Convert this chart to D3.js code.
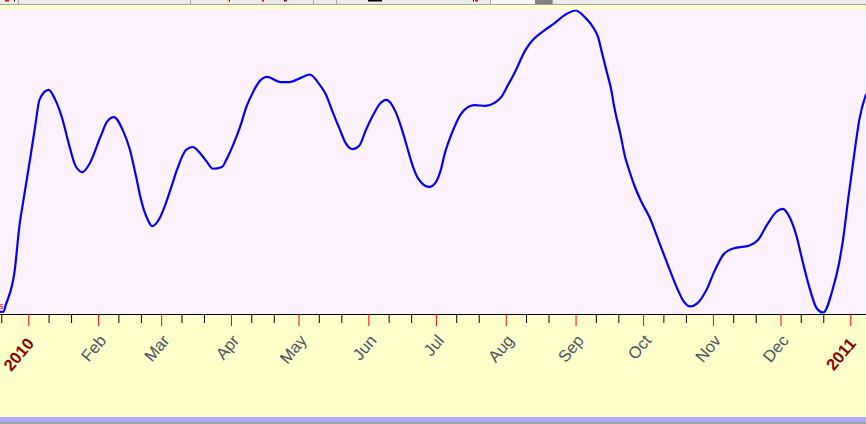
<!DOCTYPE html>
<html><head><meta charset="utf-8">
<script src="https://cdn.jsdelivr.net/npm/d3@7"></script>
<style>html,body{margin:0;padding:0;overflow:hidden;background:#ffffcc}svg{display:block}</style>
</head><body>
<svg id="c" width="866" height="424"></svg>
<script>
// ---- data (arbitrary index units 0..100) ----
const dates = [
"2009-12-19","2009-12-21","2009-12-22","2009-12-26","2009-12-28","2009-12-30",
"2010-01-02","2010-01-04","2010-01-06","2010-01-10","2010-01-13","2010-01-16","2010-01-19","2010-01-22","2010-01-25","2010-01-28",
"2010-02-02","2010-02-05","2010-02-08","2010-02-12","2010-02-15","2010-02-18","2010-02-20","2010-02-23","2010-02-25","2010-02-28",
"2010-03-03","2010-03-06","2010-03-08","2010-03-12","2010-03-15","2010-03-18","2010-03-21","2010-03-24","2010-03-28","2010-03-30",
"2010-04-02","2010-04-05","2010-04-08","2010-04-11","2010-04-13","2010-04-17","2010-04-23","2010-04-27",
"2010-05-02","2010-05-06","2010-05-10","2010-05-13","2010-05-16","2010-05-19","2010-05-22","2010-05-25","2010-05-28","2010-05-31",
"2010-06-03","2010-06-06","2010-06-09","2010-06-13","2010-06-16","2010-06-18","2010-06-21","2010-06-23","2010-06-28",
"2010-07-01","2010-07-03","2010-07-05","2010-07-08","2010-07-12","2010-07-15","2010-07-18","2010-07-23","2010-07-27","2010-07-30",
"2010-08-02","2010-08-05","2010-08-10","2010-08-13","2010-08-18","2010-08-23","2010-08-27",
"2010-09-01","2010-09-05","2010-09-09","2010-09-11","2010-09-13","2010-09-15","2010-09-17","2010-09-18","2010-09-21","2010-09-23","2010-09-24","2010-09-27","2010-09-30",
"2010-10-04","2010-10-08","2010-10-12","2010-10-16","2010-10-19","2010-10-22","2010-10-25","2010-10-29",
"2010-11-02","2010-11-06","2010-11-11","2010-11-17","2010-11-21","2010-11-25","2010-11-29",
"2010-12-02","2010-12-05","2010-12-08","2010-12-11","2010-12-14","2010-12-17","2010-12-20","2010-12-24","2010-12-27","2010-12-29","2010-12-31",
"2011-01-03","2011-01-05","2011-01-08"
];
const values = [
0.2,0.3,2.5,14.1,28.3,37.9,
51.8,61.4,70.5,73.7,70.4,64.4,55.8,48.5,46.5,49.0,
58.1,63.2,64.7,60.3,54.2,44.5,37.5,30.8,28.6,30.8,
36.0,42.7,47.2,53.8,54.8,53.0,50.2,47.6,48.2,50.7,
55.6,61.4,68.4,73.3,75.9,78.0,76.3,76.3,
77.7,78.8,75.8,72.4,66.7,61.2,56.0,54.1,55.3,60.6,
65.2,69.0,70.4,66.6,60.4,55.3,47.9,44.5,41.6,
43.2,46.8,52.8,59.2,65.6,67.9,68.7,68.4,69.4,71.3,
75.3,79.5,87.2,90.2,93.3,96.0,98.4,
100,97.9,94.2,91.2,85.2,79.3,73.2,68.8,58.8,51.5,49.0,42.3,37.0,
31.3,23.5,15.7,8.2,3.7,2.0,3.0,7.3,
14.2,19.5,21.4,22.1,24.0,29.0,33.2,
34.3,31.6,25.6,16.4,7.9,1.5,0.0,7.2,16.3,25.3,37.3,
53.8,63.8,72.3
];
const monthLabels = ["2010","Feb","Mar","Apr","May","Jun","Jul","Aug","Sep","Oct","Nov","Dec","2011"];
const minorDays = [10, 20];

// ---- setup ----
const W = 866, H = 424;
const svg = d3.select("#c");
const parse = d3.utcParse("%Y-%m-%d");
const data = dates.map((d, i) => ({date: parse(d), v: values[i]}));

const plotTop = 9.5, axisY = 314;
const x = d3.scaleUtc()
  .domain([new Date(Date.UTC(2010,0,1)), new Date(Date.UTC(2011,0,1))])
  .range([28.3, 850.3]);
const y = d3.scaleLinear().domain([0, 100]).range([312.5, 10.5]);

// backgrounds
svg.append("rect").attr("x",0).attr("y",0).attr("width",W).attr("height",H).attr("fill","#ffffcc");
svg.append("rect").attr("x",0).attr("y",plotTop).attr("width",W).attr("height",axisY-plotTop).attr("fill","#fdf1fd");

// top toolbar remnant
svg.append("rect").attr("x",0).attr("y",0).attr("width",W).attr("height",4).attr("fill","#ebebeb");
svg.append("rect").attr("x",0).attr("y",4).attr("width",W).attr("height",1).attr("fill","#a3a3a3");
[18,190,313,336,490,552].forEach(sx => {
  svg.append("rect").attr("x",sx).attr("y",0).attr("width",1).attr("height",4).attr("fill","#a3a3a3");
});
svg.append("rect").attr("x",491).attr("y",0).attr("width",44).attr("height",4).attr("fill","#f7f7f7");
svg.append("rect").attr("x",535).attr("y",0).attr("width",17).attr("height",4).attr("fill","#808080");
[[5,4,"#ff0000"],[14,1,"#000"],[227,3,"#ffd800"],[229,1,"#000"],[262,2,"#ff0000"],[284,1,"#000"],[285,2,"#ff0000"],[368,14,"#000"],[473,1,"#000"],[475,3,"#ff0000"]].forEach(m => {
  svg.append("rect").attr("x",m[0]).attr("y",0).attr("width",m[1]).attr("height",1.5).attr("fill",m[2]);
});

// bottom bands
svg.append("rect").attr("x",0).attr("y",417).attr("width",W).attr("height",5).attr("fill","#aaaaf2");
svg.append("rect").attr("x",0).attr("y",422).attr("width",W).attr("height",2).attr("fill","#a0a0a0");

// clip
svg.append("clipPath").attr("id","clip").append("rect")
  .attr("x",0).attr("y",plotTop).attr("width",W).attr("height",axisY-plotTop+1);

// line
const line = d3.line().x(d => x(d.date)).y(d => y(d.v)).curve(d3.curveMonotoneX);
svg.append("path").datum(data)
  .attr("clip-path","url(#clip)")
  .attr("fill","none").attr("stroke","#0000ff").attr("stroke-width",2.2)
  .attr("stroke-linejoin","round")
  .attr("d", line);

// small red label remnant at left
svg.append("text").attr("x",-1).attr("y",309).attr("font-family","Liberation Sans, Arial, sans-serif")
  .attr("font-size",9).attr("fill","#ff0000").text("s");

// axis line
svg.append("line").attr("x1",0).attr("x2",W).attr("y1",axisY+0.5).attr("y2",axisY+0.5)
  .attr("stroke","#000").attr("stroke-width",1);

// ticks
const visStart = x.invert(0), visEnd = x.invert(W);
const majorTicks = d3.utcMonth.range(new Date(Date.UTC(2010,0,1)), new Date(Date.UTC(2011,0,2)));
const minorTicks = [];
d3.utcMonth.range(new Date(Date.UTC(2009,11,1)), new Date(Date.UTC(2011,1,1))).forEach(m => {
  minorDays.forEach(dd => {
    const t = new Date(Date.UTC(m.getUTCFullYear(), m.getUTCMonth(), dd));
    if (t >= visStart && t <= visEnd) minorTicks.push(t);
  });
});

const minorAxis = d3.axisBottom(x).tickValues(minorTicks).tickSize(9).tickSizeOuter(0).tickFormat("");
const gMin = svg.append("g").attr("transform",`translate(0,${axisY})`).call(minorAxis);
gMin.select(".domain").remove();
gMin.selectAll(".tick line").attr("stroke","#000");

const majorAxis = d3.axisBottom(x).tickValues(majorTicks).tickSize(12).tickSizeOuter(0).tickFormat("");
const gMaj = svg.append("g").attr("transform",`translate(0,${axisY})`).call(majorAxis);
gMaj.select(".domain").remove();
gMaj.selectAll(".tick line").attr("stroke","#ff0000");

// labels
svg.append("g").selectAll("text").data(majorTicks).join("text")
  .attr("transform", (d,i) => {
    const isYear = d.getUTCMonth() === 0;
    const tx = x(d) + (isYear ? 6.5 : 9);
    const ty = isYear ? 344 : 341;
    return `translate(${tx},${ty}) rotate(-50)`;
  })
  .attr("text-anchor","end")
  .attr("font-family","Liberation Sans, Arial, sans-serif")
  .attr("font-size",16.5)
  .attr("font-weight",(d) => d.getUTCMonth() === 0 ? "bold" : "normal")
  .attr("fill",(d) => d.getUTCMonth() === 0 ? "#8b0000" : "#4a5563")
  .text((d,i) => monthLabels[i]);
</script>
</body></html>
